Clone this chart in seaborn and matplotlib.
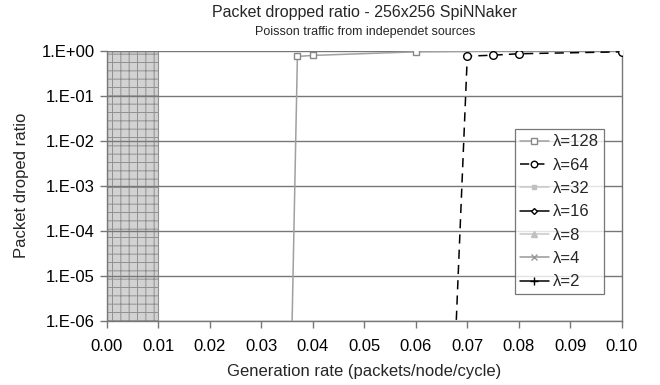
import matplotlib
matplotlib.use("Agg")
import matplotlib.pyplot as plt
import seaborn as sns
import pandas as pd
import numpy as np
from matplotlib.ticker import FixedLocator, FuncFormatter

sns.set_style("white")
plt.rcParams['font.family'] = ['Liberation Sans', 'DejaVu Sans']
plt.rcParams['hatch.color'] = '#909090'
plt.rcParams['hatch.linewidth'] = 0.7

# Data
rate_128 = [0.0358, 0.037, 0.040, 0.060, 0.080, 0.100]
drop_128 = [1e-7, 0.75, 0.79, 0.95, 1.0, 1.0]
rate_64 = [0.0675, 0.070, 0.075, 0.080, 0.100]
drop_64 = [1e-7, 0.76, 0.80, 0.86, 0.95]
empty_rate = []
empty_drop = []

labels = ["λ=128", "λ=64", "λ=32", "λ=16", "λ=8", "λ=4", "λ=2"]
x_ticks = [0.00, 0.01, 0.02, 0.03, 0.04, 0.05, 0.06, 0.07, 0.08, 0.09, 0.10]
y_ticks = [1e-6, 1e-5, 1e-4, 1e-3, 1e-2, 1e-1, 1e0]
saturation_zone = [0.0, 0.01]

fig = plt.figure(figsize=(6.6, 3.85), dpi=100)
ax = fig.add_axes([0.162, 0.167, 0.780, 0.701])

ax.axvspan(saturation_zone[0], saturation_zone[1], facecolor='#d2d2d2',
           edgecolor='#909090', hatch='++', linewidth=0.8, zorder=0)

styles = [
    dict(color='#a0a0a0', ls='-', marker='s', mfc='white', mec='#888888', ms=5),
    dict(color='black', ls=(0, (6, 4)), marker='o', mfc='white', mec='black', ms=5.5),
    dict(color='#c8c8c8', ls='-', marker='s', mfc='#c0c0c0', mec='#c0c0c0', ms=4),
    dict(color='black', ls='-', marker='D', mfc='white', mec='black', ms=3.5),
    dict(color='#c8c8c8', ls='-', marker='^', mfc='#c0c0c0', mec='#c0c0c0', ms=5),
    dict(color='#999999', ls='-', marker='x', mfc='#999999', mec='#999999', ms=5),
    dict(color='black', ls='-', marker='+', mfc='black', mec='black', ms=6),
]
data = [(rate_128, drop_128), (rate_64, drop_64)] + [(empty_rate, empty_drop)] * 5

handles = []
for (xs, ys), lab, st in zip(data, labels, styles):
    if len(xs):
        df = pd.DataFrame({"x": xs, "y": ys})
        sns.lineplot(data=df, x="x", y="y", ax=ax, color=st['color'], linestyle=st['ls'],
                     marker=st['marker'], markerfacecolor=st['mfc'], markeredgecolor=st['mec'],
                     markersize=st['ms'], markeredgewidth=1.0, linewidth=1.1,
                     legend=False, zorder=3, clip_on=True)
    h, = ax.plot([], [], color=st['color'], linestyle=st['ls'], marker=st['marker'],
                 markerfacecolor=st['mfc'], markeredgecolor=st['mec'],
                 markersize=st['ms'] * 0.85, markeredgewidth=1.0, linewidth=1.1)
    handles.append(h)

ax.set_yscale('log')
ax.set_xlim(0, 0.10)
ax.set_ylim(1e-6, 1e0)
ax.xaxis.set_major_locator(FixedLocator(x_ticks))
ax.xaxis.set_major_formatter(FuncFormatter(lambda v, p: f"{v:.2f}"))
ax.yaxis.set_major_locator(FixedLocator(y_ticks))
ax.yaxis.set_minor_locator(FixedLocator([]))
ax.yaxis.set_major_formatter(FuncFormatter(lambda v, p: "1.E+00" if v >= 1 else f"1.E-{int(round(-np.log10(v))):02d}"))

for yv in y_ticks:
    ax.axhline(yv, color='#777777', lw=1.0, zorder=1)

for s in ['left', 'bottom', 'right']:
    ax.spines[s].set_color('#777777')
    ax.spines[s].set_linewidth(1.0)
ax.spines['top'].set_visible(False)

ax.tick_params(axis='both', which='major', direction='out', length=5, width=1.0,
               color='#777777', labelsize=12, labelcolor='black')
ax.tick_params(axis='x', pad=8)
ax.tick_params(axis='y', pad=4)
ax.tick_params(left=True, bottom=True)

ax.set_xlabel("Generation rate (packets/node/cycle)", fontsize=12)
ax.set_ylabel("Packet droped ratio", fontsize=12)
ax.xaxis.label.set_va('center')
ax.yaxis.label.set_va('center')
ax.xaxis.set_label_coords(0.5, -0.19)
ax.yaxis.set_label_coords(-0.165, 0.5)

fig.text(0.553, 0.968, "Packet dropped ratio - 256x256 SpiNNaker", ha='center', va='center',
         fontsize=11.5)
fig.text(0.553, 0.918, "Poisson traffic from independet sources", ha='center', va='center',
         fontsize=9)

leg = ax.legend(handles, labels, loc='upper left', bbox_to_anchor=(0.792, 0.709),
                frameon=True, fancybox=False, edgecolor='#555555', fontsize=12,
                handlelength=1.75, handletextpad=0.25, labelspacing=0.5, borderpad=0.3,
                borderaxespad=0)
leg.get_frame().set_linewidth(0.9)
leg.set_zorder(5)

fig.savefig("out.png", dpi=100)
